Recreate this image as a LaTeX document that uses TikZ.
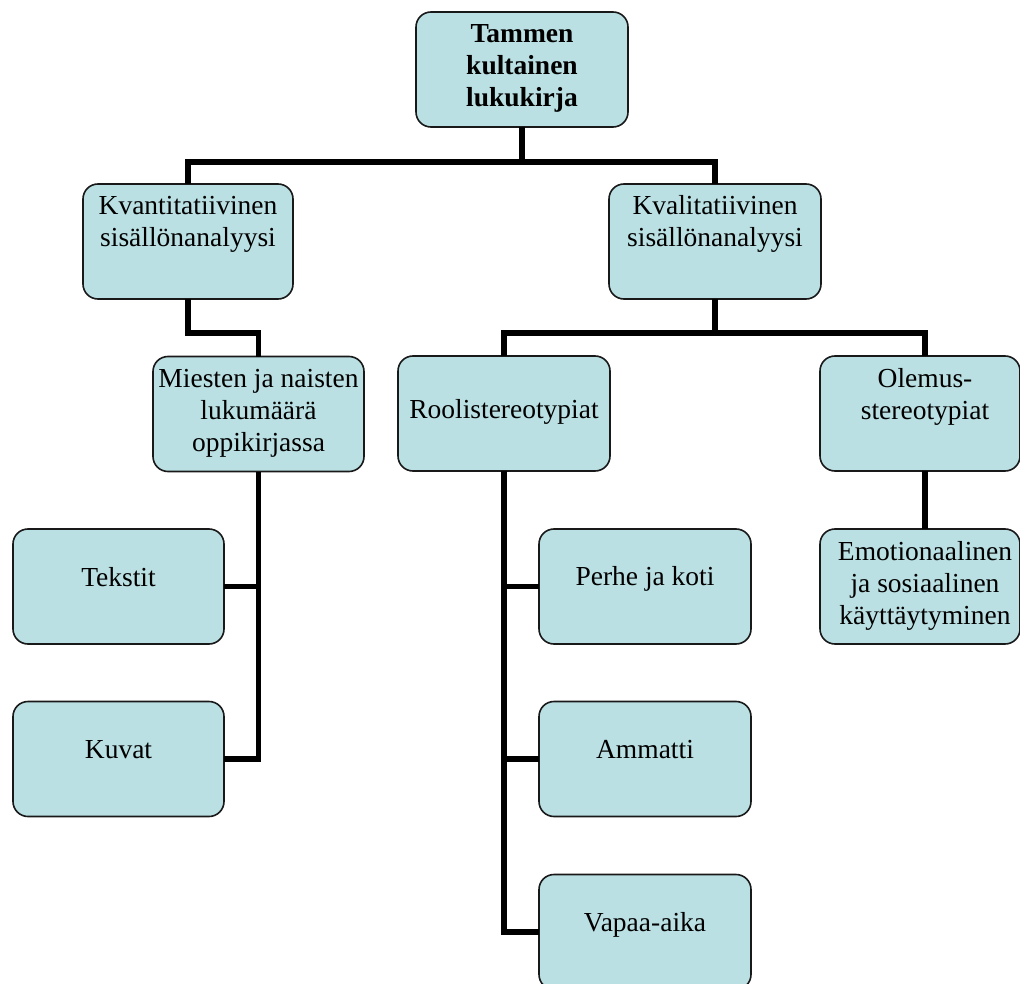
\documentclass[tikz,border=0pt]{standalone}
\usepackage{fontspec}
\setmainfont{Liberation Serif}
\definecolor{boxfill}{RGB}{186,224,227}
\definecolor{boxline}{RGB}{25,25,25}
\newcommand{\bt}[3][0pt]{\parbox[c][115pt][t]{#2}{\centering\fontsize{27.5}{32}\selectfont\vspace*{#1}\strut #3\par}}
\begin{document}
\begin{tikzpicture}[x=1pt,y=-1pt,
  box/.style={draw=boxline, line width=1.6pt, rounded corners=15pt, fill=boxfill,
    minimum height=115pt, inner sep=0pt, outer sep=0pt},
  conn/.style={draw=black, line width=5.5pt}]
\useasboundingbox (0,0) rectangle (1020,984);
% nodes
\node[box] (root) at (522,69.5) {\bt[8.6pt]{212pt}{\bfseries Tammen\\kultainen\\lukukirja}};
\node[box] (kvant) at (188,241.5) {\bt[8.6pt]{210pt}{Kvantitatiivinen\\sisällönanalyysi}};
\node[box] (kvali) at (715,241.5) {\bt[8.6pt]{212pt}{Kvalitatiivinen\\sisällönanalyysi}};
\node[box] (mies) at (258.5,414) {\bt[8.6pt]{211pt}{Miesten ja naisten\\lukumäärä\\oppikirjassa}};
\node[box] (rool) at (504,413.5) {\bt[39.6pt]{212pt}{Roolistereotypiat}};
\node[box] (olem) at (920,413.5) {\bt[8.6pt]{200pt}{\hspace*{10pt}Olemus-\\\hspace*{10pt}stereotypiat}};
\node[box] (teks) at (118.5,586.5) {\bt[34.6pt]{211pt}{Tekstit}};
\node[box] (kuvat) at (118.5,759) {\bt[34.6pt]{211pt}{Kuvat}};
\node[box] (perhe) at (645,586.5) {\bt[33.6pt]{212pt}{Perhe ja koti}};
\node[box] (amm) at (645,759) {\bt[34.6pt]{212pt}{Ammatti}};
\node[box] (vapaa) at (645,932) {\bt[34.6pt]{212pt}{Vapaa-aika}};
\node[box] (emo) at (920,586.5) {\bt[8.6pt]{200pt}{\hspace*{10pt}Emotionaalinen\\\hspace*{10pt}ja sosiaalinen\\\hspace*{10pt}käyttäytyminen}};
% connectors
\draw[conn] (root.south) -- ++(0,35);
\draw[conn] (kvant.north) -- ++(0,-22) -| (kvali.north);
\draw[conn] (kvant.south) -- ++(0,34) -| (mies.north);
\draw[conn] (kvali.south) -- ++(0,34);
\draw[conn] (rool.north) -- ++(0,-23) -| ([xshift=5pt]olem.north);
\draw[conn] ([xshift=5pt]olem.south) -- ([xshift=5pt]emo.north);
\draw[conn] (mies.south) |- (kuvat.east);
\draw[conn] (teks.east) -- (teks.east -| mies.south);
\draw[conn] (rool.south) |- (vapaa.west);
\draw[conn] (perhe.west) -- (perhe.west -| rool.south);
\draw[conn] (amm.west) -- (amm.west -| rool.south);
\end{tikzpicture}
\end{document}
